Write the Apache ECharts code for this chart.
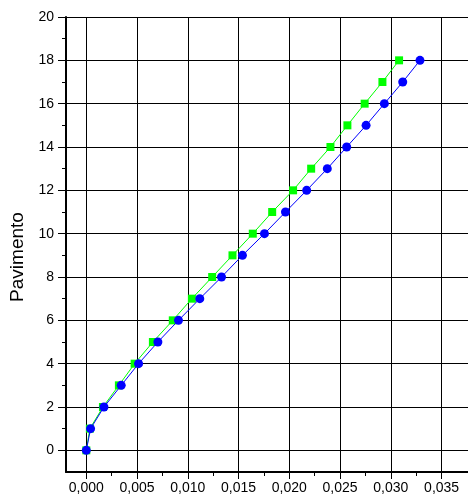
<!DOCTYPE html>
<html>
<head>
<meta charset="utf-8">
<script src="https://cdn.jsdelivr.net/npm/echarts@6/dist/echarts.min.js"></script>
<style>
  html, body { margin: 0; padding: 0; background: #fff; }
  #chart { width: 468px; height: 499px; }
</style>
</head>
<body>
<div id="chart"></div>
<script>
// Storey index (Pavimento) and inter-storey drift for the two cases
const floors = [0, 1, 2, 3, 4, 5, 6, 7, 8, 9, 10, 11, 12, 13, 14, 15, 16, 17, 18];
const blueDrift = [0, 0.00042, 0.00174, 0.00344, 0.00515, 0.00705, 0.00908, 0.01118, 0.01332, 0.01538,
  0.01755, 0.01962, 0.02171, 0.02374, 0.02565, 0.02756, 0.02936, 0.03117, 0.03287];
const greenDrift = [0, 0.00035, 0.00164, 0.00321, 0.00476, 0.00656, 0.00852, 0.0104, 0.0124, 0.0144,
  0.0164, 0.01831, 0.02037, 0.02215, 0.02405, 0.02572, 0.02742, 0.02917, 0.03081];

// Tick values
const xMajor = [0, 0.005, 0.010, 0.015, 0.020, 0.025, 0.030, 0.035];
const xMinor = [0.0025, 0.0075, 0.0125, 0.0175, 0.0225, 0.0275, 0.0325];
const yMajor = [0, 2, 4, 6, 8, 10, 12, 14, 16, 18, 20];
const yMinor = [1, 3, 5, 7, 9, 11, 13, 15, 17, 19];

const X_MIN = -0.002, X_MAX = 0.0376, Y_MIN = -1, Y_MAX = 20;
const FONT = "'Liberation Sans', Arial, sans-serif";

const chart = echarts.init(document.getElementById('chart'));

const pairs = (xs) => xs.map((x, i) => [x, floors[i]]);

chart.setOption({
  animation: false,
  backgroundColor: '#fff',
  grid: { left: 66, top: 17, right: 0, bottom: 27, containLabel: false },
  xAxis: [
    {
      type: 'value', min: X_MIN, max: X_MAX, position: 'bottom',
      axisLine: { show: true, onZero: false, lineStyle: { color: '#000', width: 2 } },
      axisTick: { show: true, inside: false, length: 7, customValues: xMajor, lineStyle: { color: '#000', width: 1 } },
      axisLabel: {
        customValues: xMajor, margin: 9, color: '#000', fontSize: 14, fontFamily: FONT,
        formatter: (v) => v.toFixed(3).replace('.', ',')
      },
      splitLine: { show: true, lineStyle: { color: '#000', width: 1 } }
    },
    {
      type: 'value', min: X_MIN, max: X_MAX, position: 'bottom',
      axisLine: { show: false, onZero: false },
      axisTick: { show: true, inside: false, length: 4, customValues: xMinor, lineStyle: { color: '#000', width: 1 } },
      axisLabel: { show: false },
      splitLine: { show: false }
    }
  ],
  yAxis: [
    {
      type: 'value', min: Y_MIN, max: Y_MAX, position: 'left',
      axisLine: { show: true, onZero: false, lineStyle: { color: '#000', width: 2 } },
      axisTick: { show: true, inside: false, length: 8, customValues: yMajor, lineStyle: { color: '#000', width: 1 } },
      axisLabel: { customValues: yMajor, margin: 12, color: '#000', fontSize: 14, fontFamily: FONT },
      splitLine: { show: true, lineStyle: { color: '#000', width: 1 } }
    },
    {
      type: 'value', min: Y_MIN, max: Y_MAX, position: 'left',
      axisLine: { show: false, onZero: false },
      axisTick: { show: true, inside: false, length: 4, customValues: yMinor, lineStyle: { color: '#000', width: 1 } },
      axisLabel: { show: false },
      splitLine: { show: false }
    }
  ],
  graphic: [{
    type: 'text', x: 18, y: 257, rotation: Math.PI / 2,
    style: { text: 'Pavimento', fill: '#000', font: '19px ' + FONT, align: 'center', verticalAlign: 'middle' }
  }],
  series: [
    {
      name: 'green', type: 'line', data: pairs(greenDrift),
      symbol: 'rect', symbolSize: 8,
      lineStyle: { color: '#00ff00', width: 1 },
      itemStyle: { color: '#00ff00' },
      z: 2
    },
    {
      name: 'blue', type: 'line', data: pairs(blueDrift),
      symbol: 'circle', symbolSize: 9,
      lineStyle: { color: '#0000ff', width: 1 },
      itemStyle: { color: '#0000ff' },
      z: 3
    }
  ]
});
</script>
</body>
</html>
